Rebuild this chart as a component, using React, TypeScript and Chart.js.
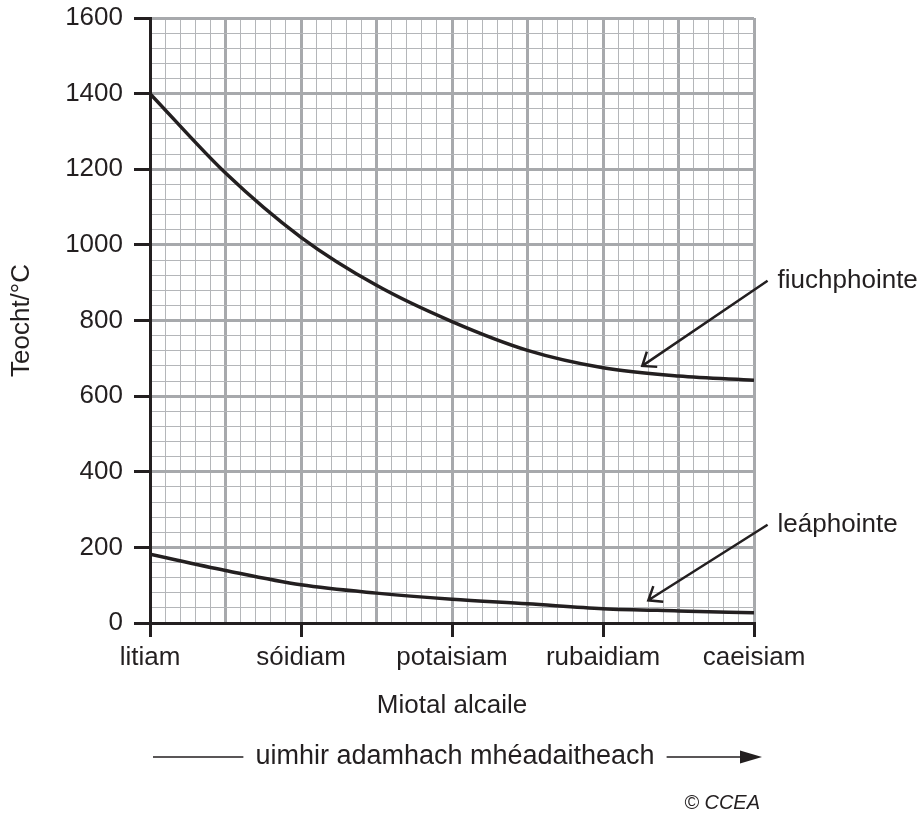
import React, { useEffect, useRef } from 'react';
import { Chart, registerables } from 'chart.js';

Chart.register(...registerables);

// ---- data ----
const categories = ['litiam', 'sóidiam', 'potaisiam', 'rubaidiam', 'caeisiam'];
const positions = [0, 0.5, 1, 1.5, 2, 2.5, 3, 3.5, 4];
const boilingPoint = [1400, 1190, 1020, 893, 797, 721, 675, 653, 642];
const meltingPoint = [182, 139, 101, 79, 63, 51, 38, 32, 27];
const yTickLabels = [0, 200, 400, 600, 800, 1000, 1200, 1400, 1600];

const seriesNames = ['fiuchphointe', 'leáphointe'];
const xTitle = 'Miotal alcaile';
const yTitle = 'Teocht/°C';
const footerText = 'uimhir adamhach mhéadaitheach';
const copyright = '© CCEA';

// annotation anchor points (data units)
const pointers = [
  { label: seriesNames[0], tail: [4.09, 905], tip: [3.26, 680] },
  { label: seriesNames[1], tail: [4.09, 260], tip: [3.3, 60] },
];

const INK = '#231f20';
const MAJOR = '#a7a9ac';
const MINOR = '#b4b6b9';
const FONT = "'Liberation Sans', Arial, Helvetica, sans-serif";
const FS = 26;

function isMult(v: number, step: number) {
  const r = v / step;
  return Math.abs(r - Math.round(r)) < 1e-6;
}

const annotationPlugin = {
  id: 'annotations',
  afterDraw(chart: any) {
    const { ctx, chartArea } = chart;
    const xs = chart.scales.x;
    const ys = chart.scales.y;
    ctx.save();
    ctx.strokeStyle = INK;
    ctx.fillStyle = INK;
    ctx.lineWidth = 2.5;
    ctx.font = `${FS}px ${FONT}`;
    ctx.textBaseline = 'middle';
    ctx.textAlign = 'left';
    for (const a of pointers) {
      const tx = xs.getPixelForValue(a.tail[0]);
      const ty = ys.getPixelForValue(a.tail[1]);
      const px = xs.getPixelForValue(a.tip[0]);
      const py = ys.getPixelForValue(a.tip[1]);
      ctx.beginPath();
      ctx.moveTo(tx, ty);
      ctx.lineTo(px, py);
      const ang = Math.atan2(ty - py, tx - px);
      const L = 15;
      const spread = (38 * Math.PI) / 180;
      ctx.moveTo(px + L * Math.cos(ang - spread), py + L * Math.sin(ang - spread));
      ctx.lineTo(px, py);
      ctx.lineTo(px + L * Math.cos(ang + spread), py + L * Math.sin(ang + spread));
      ctx.stroke();
      ctx.fillText(a.label, tx + 10, ty);
    }

    // footer arrow with text
    const fy = 757;
    const cx = (chartArea.left + chartArea.right) / 2 + 3;
    ctx.font = `27px ${FONT}`;
    const w = ctx.measureText(footerText).width;
    ctx.textAlign = 'center';
    ctx.fillText(footerText, cx, fy);
    ctx.lineWidth = 1.5;
    ctx.beginPath();
    ctx.moveTo(chartArea.left + 3, fy);
    ctx.lineTo(cx - w / 2 - 12, fy);
    const tipX = chartArea.right + 8;
    ctx.moveTo(cx + w / 2 + 12, fy);
    ctx.lineTo(tipX - 16, fy);
    ctx.stroke();
    ctx.beginPath();
    ctx.moveTo(tipX, fy);
    ctx.lineTo(tipX - 22, fy - 6.5);
    ctx.lineTo(tipX - 22, fy + 6.5);
    ctx.closePath();
    ctx.fill();

    ctx.font = `italic 20px ${FONT}`;
    ctx.textAlign = 'right';
    ctx.fillText(copyright, chartArea.right + 6, 803);
    ctx.restore();
  },
};

export default function App() {
  const ref = useRef<HTMLCanvasElement | null>(null);
  useEffect(() => {
    if (!ref.current) return;
    const chart = new Chart(ref.current, {
      type: 'line',
      data: {
        datasets: [
          {
            label: seriesNames[0],
            data: positions.map((p, i) => ({ x: p, y: boilingPoint[i] })),
            borderColor: INK,
            borderWidth: 3.5,
            pointRadius: 0,
            cubicInterpolationMode: 'monotone',
            fill: false,
          },
          {
            label: seriesNames[1],
            data: positions.map((p, i) => ({ x: p, y: meltingPoint[i] })),
            borderColor: INK,
            borderWidth: 3.5,
            pointRadius: 0,
            cubicInterpolationMode: 'monotone',
            fill: false,
          },
        ],
      },
      options: {
        responsive: false,
        animation: false,
        devicePixelRatio: 1,
        layout: { padding: { left: 0, right: 168, top: 18, bottom: 0 } },
        plugins: { legend: { display: false }, tooltip: { enabled: false } },
        scales: {
          x: {
            type: 'linear',
            min: 0,
            max: 4,
            afterFit: (s: any) => {
              s.height = 193;
              s.paddingLeft = 0;
              s.paddingRight = 0;
            },
            ticks: {
              stepSize: 0.1,
              autoSkip: false,
              maxRotation: 0,
              minRotation: 0,
              padding: 5,
              color: INK,
              font: { family: FONT, size: FS },
              callback: (v: any) => {
                const n = Number(v);
                return isMult(n, 1) ? categories[Math.round(n)] : '';
              },
            },
            grid: {
              color: (c: any) => (isMult(c.tick.value, 0.5) ? MAJOR : MINOR),
              lineWidth: (c: any) => (isMult(c.tick.value, 0.5) ? 3 : 1),
              tickLength: 14,
              tickWidth: 3,
              tickColor: (c: any) => (isMult(c.tick.value, 1) ? INK : 'rgba(0,0,0,0)'),
            },
            border: { display: true, color: INK, width: 3 },
            title: {
              display: true,
              text: xTitle,
              color: INK,
              font: { family: FONT, size: FS },
              padding: { top: 0, bottom: 95 },
            },
          },
          y: {
            type: 'linear',
            min: 0,
            max: 1600,
            afterFit: (s: any) => {
              s.width = 150;
              s.paddingTop = 0;
              s.paddingBottom = 0;
            },
            ticks: {
              stepSize: 40,
              autoSkip: false,
              padding: 11,
              color: INK,
              font: { family: FONT, size: FS },
              callback: (v: any) => {
                const n = Number(v);
                return yTickLabels.includes(n) ? String(n) : '';
              },
            },
            grid: {
              color: (c: any) => (isMult(c.tick.value, 200) ? MAJOR : MINOR),
              lineWidth: (c: any) => (isMult(c.tick.value, 200) ? 3 : 1),
              tickLength: 16,
              tickWidth: 3,
              tickColor: (c: any) => (isMult(c.tick.value, 200) ? INK : 'rgba(0,0,0,0)'),
            },
            border: { display: true, color: INK, width: 3 },
            title: {
              display: true,
              text: yTitle,
              color: INK,
              font: { family: FONT, size: FS },
              padding: { top: 6, bottom: 0 },
            },
          },
        },
      },
      plugins: [annotationPlugin],
    } as any);
    return () => chart.destroy();
  }, []);

  return (
    <div style={{ position: 'fixed', left: 0, top: 0, width: 922, height: 816, background: '#fff' }}>
      <canvas ref={ref} width={922} height={816} style={{ display: 'block' }} />
    </div>
  );
}
